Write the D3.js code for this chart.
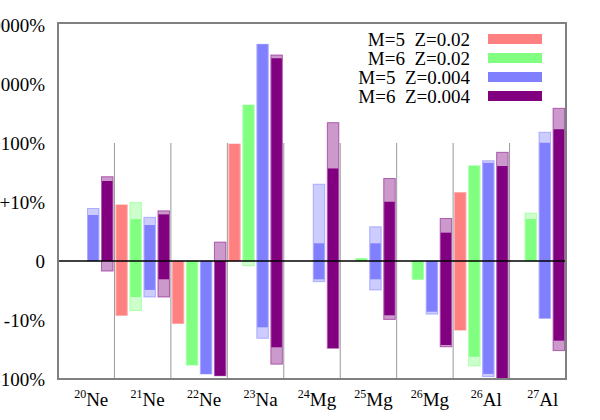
<!DOCTYPE html>
<html>
<head>
<meta charset="utf-8">
<script src="https://cdn.jsdelivr.net/npm/d3@7"></script>
<style>
body { margin: 0; background: #fff; }
svg text { font-family: 'Liberation Serif', 'DejaVu Serif', serif; }
</style>
</head>
<body>
<div id="chart"></div>
<script>
// isotope labels: [mass number, element]
var isotopes = [["20","Ne"],["21","Ne"],["22","Ne"],["23","Na"],["24","Mg"],["25","Mg"],["26","Mg"],["26","Al"],["27","Al"]];
var seriesNames = ["M=5  Z=0.02", "M=6  Z=0.02", "M=5  Z=0.004", "M=6  Z=0.004"];
var seriesColors = ["#ff8080", "#80ff80", "#8080ff", "#800080"];

// change in percent per isotope: [light low, solid low, solid high, light high], null = no bar
var m5z02 = [null, [-9.2,-9.2,9.5,9.5], [-11.4,-11.4,0,0], [0,0,96,96], null, null, null, [-14.8,-14.8,14.2,14.5], null];
var m6z02 = [null, [-8.4,-6.1,7.1,9.9], [-58,-58,0,0], [-0.8,0,440,440], null, [0,0,0.4,0.4], [-3.1,-3.1,0,0], [-60,-42,41,41], [0,0,7.1,8.1]];
var m5z004 = [[0,0,7.8,8.9], [-6.1,-4.9,6.1,7.4], [-82,-82,0,0], [-20.4,-13.3,4700,4700], [-3.5,-3.1,3.0,20], [-4.9,-3.1,3.0,5.8], [-9.0,-8.6,0,0], [-91,-82,46,50], [-9.7,-9.7,101,152]];
var m6z004 = [[-1.7,0,22.7,26.8], [-6.1,-3.1,7.9,8.5], [-88,-88,0,3.2], [-56,-29,2730,3100], [-30,-30,37,221], [-9.9,-9.2,10.1,25], [-28.4,-26.5,4.8,7.2], [-100,-100,40.7,69.5], [-33,-22.4,171,387]];

var yTicks = [-100, -10, 0, 10, 100, 1000, 10000];
var yTickLabels = ["-100%", "-10%", "0", "+10%", "+100%", "+1000%", "+10000%"];

var width = 600, height = 420;
var plotLeft = 58, plotRight = 566, plotTop = 23, plotBottom = 379;
var serif = "'Liberation Serif', 'DejaVu Serif', serif";

// linear inside +-10%, one decade per step beyond
function dec(p) {
    var a = Math.abs(p);
    return a <= 10 ? p / 10 : Math.sign(p) * (1 + Math.log10(a / 10));
}

var svg = d3.select('#chart').append('svg')
    .attr('width', width)
    .attr('height', height);

var y = d3.scaleLinear().domain([-2, 4]).range([379, 25]);
var x0 = d3.scaleBand().domain(d3.range(isotopes.length)).range([plotLeft, plotRight]);
var x1 = d3.scaleBand().domain(d3.range(4)).range([0, x0.bandwidth()])
    .paddingInner(0.18).paddingOuter(0.1);

svg.append('clipPath').attr('id', 'plotclip')
    .append('rect')
    .attr('x', plotLeft).attr('y', plotTop)
    .attr('width', plotRight - plotLeft).attr('height', plotBottom - plotTop);

// category separators
svg.append('g').selectAll('line')
    .data(d3.range(1, isotopes.length))
    .enter().append('line')
    .attr('x1', function(d){ return x0(d); })
    .attr('x2', function(d){ return x0(d); })
    .attr('y1', y(2))
    .attr('y2', plotBottom)
    .style('stroke', '#999')
    .style('stroke-width', 1);

var allSeries = [m5z02, m6z02, m5z004, m6z004];
var bars = [];
allSeries.forEach(function(s, si){
    s.forEach(function(d, ci){
        if (d) bars.push({c: ci, s: si, v: d});
    });
});

var barG = svg.append('g').attr('clip-path', 'url(#plotclip)');

// light range
barG.selectAll('rect.light')
    .data(bars)
    .enter().append('rect')
    .attr('class', 'light')
    .attr('x', function(d){ return x0(d.c) + x1(d.s); })
    .attr('width', x1.bandwidth())
    .attr('y', function(d){ return y(dec(d.v[3])); })
    .attr('height', function(d){ return y(dec(d.v[0])) - y(dec(d.v[3])); })
    .style('fill', function(d){ return seriesColors[d.s]; })
    .style('fill-opacity', 0.4)
    .style('stroke', function(d){ return seriesColors[d.s]; })
    .style('stroke-opacity', 0.55)
    .style('stroke-width', 1);

// solid range
barG.selectAll('rect.solid')
    .data(bars)
    .enter().append('rect')
    .attr('class', 'solid')
    .attr('x', function(d){ return x0(d.c) + x1(d.s) + 0.5; })
    .attr('width', x1.bandwidth() - 1)
    .attr('y', function(d){ return y(dec(d.v[2])); })
    .attr('height', function(d){ return y(dec(d.v[1])) - y(dec(d.v[2])); })
    .style('fill', function(d){ return seriesColors[d.s]; });

// zero line
svg.append('line')
    .attr('x1', plotLeft).attr('x2', plotRight)
    .attr('y1', y(0)).attr('y2', y(0))
    .style('stroke', '#000')
    .style('stroke-width', 1.6);

// frame
svg.append('rect')
    .attr('x', plotLeft).attr('y', plotTop)
    .attr('width', plotRight - plotLeft).attr('height', plotBottom - plotTop)
    .style('fill', 'none')
    .style('stroke', '#808080')
    .style('stroke-width', 2);

// y axis labels
var yAxis = d3.axisLeft(y)
    .tickValues(yTicks.map(dec))
    .tickFormat(function(d, i){ return yTickLabels[i]; })
    .tickSize(0)
    .tickPadding(13);

svg.append('g')
    .attr('transform', 'translate(' + plotLeft + ',0)')
    .call(yAxis)
    .attr('font-family', null)
    .attr('font-size', null)
    .call(function(g){ g.select('.domain').remove(); })
    .selectAll('text')
    .attr('dy', '0.34em')
    .style('font-family', serif)
    .style('font-size', '19px')
    .style('fill', '#000');

// x labels
var xl = svg.append('g').selectAll('text')
    .data(isotopes)
    .enter().append('text')
    .attr('x', function(d, i){ return x0(i) + x0.bandwidth() / 2 + 5; })
    .attr('y', 406)
    .attr('text-anchor', 'middle')
    .style('font-family', serif)
    .style('font-size', '19px');
xl.append('tspan')
    .attr('dy', -8)
    .style('font-size', '12px')
    .text(function(d){ return d[0]; });
xl.append('tspan')
    .attr('dy', 8)
    .text(function(d){ return d[1]; });

// legend
var legend = svg.append('g').selectAll('g')
    .data(seriesNames)
    .enter().append('g')
    .attr('transform', function(d, i){ return 'translate(0,' + (46 + i * 19) + ')'; });
legend.append('text')
    .attr('x', 470)
    .attr('text-anchor', 'end')
    .style('font-family', serif)
    .style('font-size', '19px')
    .style('white-space', 'pre')
    .text(function(d){ return d; });
legend.append('rect')
    .attr('x', 488)
    .attr('y', -12)
    .attr('width', 54)
    .attr('height', 10)
    .style('fill', function(d, i){ return seriesColors[i]; });
</script>
</body>
</html>
